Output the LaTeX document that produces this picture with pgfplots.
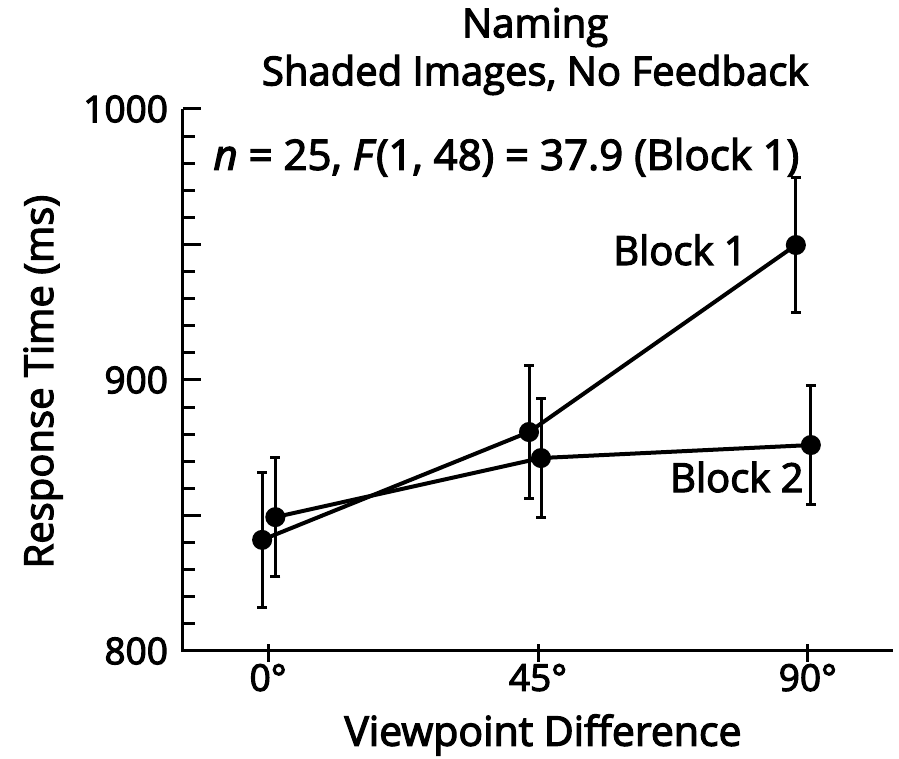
\documentclass[border=0pt]{standalone}
\usepackage{fontspec}
\setmainfont{Open Sans}[FakeBold=3]
\usepackage{pgfplots}
\pgfplotsset{compat=1.18}
\begin{document}
\begin{tikzpicture}
\useasboundingbox (-91.5pt,-54pt) rectangle (358pt,325.5pt);
\begin{axis}[
  at={(0,0)}, anchor=south west,
  scale only axis, width=355pt, height=271pt,
  xmin=-14.2, xmax=104.2, ymin=800, ymax=1000,
  xtick pos=bottom, ytick pos=left,
  axis line style={draw=none},
  tick align=inside,
  every tick/.style={black, line width=1.5pt},
  x tick style={yshift=-5.5pt},
  xtick={0,45,90}, xticklabels={0°,45°,90°},
  ytick={800,900,1000},
  extra y ticks={850,950}, extra y tick labels={},
  minor ytick={810,820,830,840,860,870,880,890,910,920,930,940,960,970,980,990},
  major tick length=9pt, minor tick length=6pt,
  /pgf/number format/assume math mode=true,
  /pgf/number format/1000 sep={},
  ticklabel style={font=\fontsize{18.5}{20}\selectfont},
  xticklabel style={yshift=-3pt},
  yticklabel style={xshift=-4pt},
  title={Naming\\Shaded Images, No Feedback},
  title style={font=\fontsize{20}{24}\selectfont, align=center, at={(axis description cs:0.496,1.084)}, anchor=center},
  xlabel={Viewpoint Difference},
  xlabel style={font=\fontsize{20.5}{24}\selectfont, at={(axis description cs:0.507,-0.155)}, anchor=center},
  ylabel={Response Time (ms)},
  ylabel style={font=\fontsize{20}{24}\selectfont, at={(axis description cs:-0.197,0.497)}, anchor=center, rotate=0},
  clip=false,
]
\draw[black, line width=1.5pt, line join=miter] (rel axis cs:0,1) -- (rel axis cs:0,0) -- (rel axis cs:1,0);
\addplot[black, line width=2pt, mark=*, mark size=4pt,
  error bars/.cd, y dir=both, y explicit,
  error bar style={line width=1.5pt},
  error mark options={rotate=90, mark size=2.5pt, line width=1.5pt}]
  coordinates {
    (-1,841) +- (0,25)
    (43.5,880.8) +- (0,24.5)
    (88,949.8) +- (0,25)
  };
\addplot[black, line width=2pt, mark=*, mark size=4pt,
  error bars/.cd, y dir=both, y explicit,
  error bar style={line width=1.5pt},
  error mark options={rotate=90, mark size=2.5pt, line width=1.5pt}]
  coordinates {
    (1.2,849.4) +- (0,22)
    (45.5,871.2) +- (0,22)
    (90.5,876) +- (0,22)
  };
\node[font=\fontsize{21}{24}\selectfont, anchor=west] at (axis description cs:0.033,0.911) {\textit{n} = 25, \textit{F}(1, 48) = 37.9 (Block 1)};
\node[font=\fontsize{20}{24}\selectfont] at (axis description cs:0.700, 0.740) {Block 1};
\node[font=\fontsize{20}{24}\selectfont] at (axis description cs:0.780, 0.321) {Block 2};
\end{axis}
\end{tikzpicture}
\end{document}
